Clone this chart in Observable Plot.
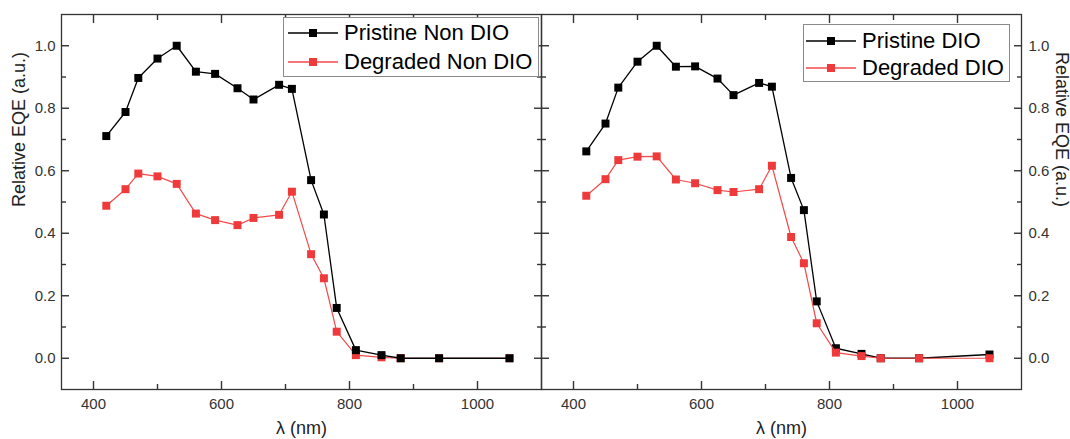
<!DOCTYPE html>
<html>
<head>
<meta charset="utf-8">
<script src="https://cdn.jsdelivr.net/npm/d3@7"></script>
<script src="https://cdn.jsdelivr.net/npm/@observablehq/plot@0.6"></script>
<style>
  body { margin: 0; background: #fff; }
  #wrap { position: relative; width: 1070px; height: 439px; font-family: "Liberation Sans", Arial, sans-serif; }
  .legend { position: absolute; background: #fff; border: 1px solid #8a8a8a; box-sizing: border-box; }
  .lrow { position: absolute; left: 0; right: 0; height: 24px; }
  .lrow svg { position: absolute; top: 0; }
  .lrow span { position: absolute; top: 0; line-height: 24px; font-size: 22px; color: #000; white-space: nowrap; }
</style>
</head>
<body>
<div id="wrap"></div>
<script>
// ---- data ----
const wavelengths = [420, 450, 470, 500, 530, 560, 590, 625, 650, 690, 710, 740, 760, 780, 810, 850, 880, 940, 1050];
const pristineNonDIO = [0.711, 0.788, 0.897, 0.959, 1.000, 0.917, 0.910, 0.864, 0.828, 0.875, 0.862, 0.570, 0.460, 0.161, 0.026, 0.010, 0.000, 0.000, 0.000];
const degradedNonDIO = [0.488, 0.541, 0.591, 0.582, 0.558, 0.463, 0.442, 0.426, 0.449, 0.459, 0.533, 0.333, 0.256, 0.085, 0.010, 0.003, 0.000, 0.000, 0.000];
const pristineDIO    = [0.662, 0.751, 0.866, 0.949, 1.000, 0.933, 0.934, 0.895, 0.842, 0.881, 0.869, 0.577, 0.474, 0.182, 0.032, 0.014, 0.000, 0.000, 0.012];
const degradedDIO    = [0.520, 0.573, 0.634, 0.645, 0.646, 0.572, 0.560, 0.538, 0.532, 0.541, 0.616, 0.388, 0.304, 0.112, 0.018, 0.007, 0.000, 0.000, 0.000];

const panels = ["Non DIO", "DIO"];
const seriesLabels = ["Pristine Non DIO", "Degraded Non DIO", "Pristine DIO", "Degraded DIO"];
const xMajor = [400, 600, 800, 1000];
const xMinor = [500, 700, 900];
const yMajor = [0, 0.2, 0.4, 0.6, 0.8, 1.0];
const yMinor = [0.1, 0.3, 0.5, 0.7, 0.9];
const xTitle = "λ (nm)";
const yTitle = "Relative EQE (a.u.)";

const black = "#000000";
const redDot = "#ee3a3a";
const redLine = "#f24a4a";

function rows(panel, values) {
  return wavelengths.map((w, i) => ({panel, lambda: w, eqe: values[i]}));
}
const pNon = rows(panels[0], pristineNonDIO);
const dNon = rows(panels[0], degradedNonDIO);
const pDio = rows(panels[1], pristineDIO);
const dDio = rows(panels[1], degradedDIO);

function series(data, lineColor, dotColor, lw) {
  return [
    Plot.line(data, {x: "lambda", y: "eqe", fx: "panel", stroke: lineColor, strokeWidth: lw}),
    Plot.dot(data, {x: "lambda", y: "eqe", fx: "panel", symbol: "square", r: 4.5, fill: dotColor, stroke: "none"})
  ];
}

const tickCol = "#333";
const fontSize = 15;

// inward ticks: positive length, shifted inside the frame by its own length
function inTicks(axis, anchor, ticks, len) {
  const shift = {bottom: {dy: -len}, top: {dy: len}, left: {dx: len}, right: {dx: -len}}[anchor];
  return axis({ticks, anchor, facetAnchor: null, tickSize: len, fill: "none", label: null, stroke: tickCol, strokeWidth: 1.4, ...shift});
}

const chart = Plot.plot({
  width: 1070,
  height: 439,
  marginLeft: 61,
  marginRight: 49,
  marginTop: 14,
  marginBottom: 50,
  style: {fontFamily: '"Liberation Sans", Arial, sans-serif', fontSize: "15px", color: tickCol, background: "#fff", overflow: "visible"},
  fx: {domain: panels, padding: 0, axis: null, label: null},
  x: {domain: [350, 1100]},
  y: {domain: [-0.1, 1.1]},
  marks: [
    // data: left panel, pristine on top; right panel, degraded on top
    ...series(dNon, redLine, redDot, 1.2),
    ...series(pNon, black, black, 1.3),
    ...series(pDio, black, black, 1.3),
    ...series(dDio, redLine, redDot, 1.2),
    // tick labels
    Plot.axisX({ticks: xMajor, anchor: "bottom", tickSize: 0, tickPadding: 9, tickFormat: "d", label: null, fontSize, fill: tickCol}),
    Plot.axisY({ticks: yMajor, anchor: "left", tickSize: 0, tickPadding: 6, tickFormat: ".1f", label: null, fontSize, fill: tickCol}),
    Plot.axisY({ticks: yMajor, anchor: "right", tickSize: 0, tickPadding: 7, tickFormat: ".1f", label: null, fontSize, fill: tickCol}),
    // inward tick marks on all four sides of each panel
    inTicks(Plot.axisX, "bottom", xMajor, 8),
    inTicks(Plot.axisX, "bottom", xMinor, 5),
    inTicks(Plot.axisX, "top", xMajor, 8),
    inTicks(Plot.axisX, "top", xMinor, 5),
    inTicks(Plot.axisY, "left", yMajor, 8),
    inTicks(Plot.axisY, "left", yMinor, 5),
    inTicks(Plot.axisY, "right", yMajor, 8),
    inTicks(Plot.axisY, "right", yMinor, 5),
    Plot.frame({stroke: tickCol, strokeWidth: 1.3}),
    // axis titles
    Plot.text([panels[0]], {fx: d => d, text: () => yTitle, frameAnchor: "left", rotate: -90, dx: -42, dy: 5, fontSize: 18, fill: "#222"}),
    Plot.text([panels[1]], {fx: d => d, text: () => yTitle, frameAnchor: "right", rotate: 90, dx: 40, dy: 5, fontSize: 18, fill: "#222"}),
    Plot.text(panels, {fx: d => d, text: () => xTitle, frameAnchor: "bottom", dy: 39, lineAnchor: "middle", fontSize: 18, fill: "#222"})
  ]
});

const wrap = document.getElementById("wrap");
wrap.appendChild(chart);

// ---- legends (HTML overlay) ----
function makeLegend(box, entries) {
  const div = document.createElement("div");
  div.className = "legend";
  Object.assign(div.style, {left: box.left + "px", top: box.top + "px", width: box.width + "px", height: box.height + "px"});
  entries.forEach((e, i) => {
    const row = document.createElement("div");
    row.className = "lrow";
    row.style.top = (box.rows[i] - 12) + "px";
    const sw = d3.create("svg").attr("width", 52).attr("height", 24).style("left", box.swatch + "px");
    sw.append("line").attr("x1", 1).attr("x2", 51).attr("y1", 12).attr("y2", 12).attr("stroke", e.line).attr("stroke-width", 1.3);
    sw.append("rect").attr("x", 22).attr("y", 8).attr("width", 8).attr("height", 8).attr("fill", e.dot);
    row.appendChild(sw.node());
    const span = document.createElement("span");
    span.style.left = box.text + "px";
    span.textContent = e.label;
    row.appendChild(span);
    div.appendChild(row);
  });
  wrap.appendChild(div);
}

makeLegend({left: 283, top: 17, width: 256, height: 60, rows: [15, 44], swatch: 3, text: 60}, [
  {label: seriesLabels[0], line: black, dot: black},
  {label: seriesLabels[1], line: redLine, dot: redDot}
]);
makeLegend({left: 803, top: 24, width: 207, height: 58, rows: [16, 43], swatch: 1, text: 58}, [
  {label: seriesLabels[2], line: black, dot: black},
  {label: seriesLabels[3], line: redLine, dot: redDot}
]);
</script>
</body>
</html>
